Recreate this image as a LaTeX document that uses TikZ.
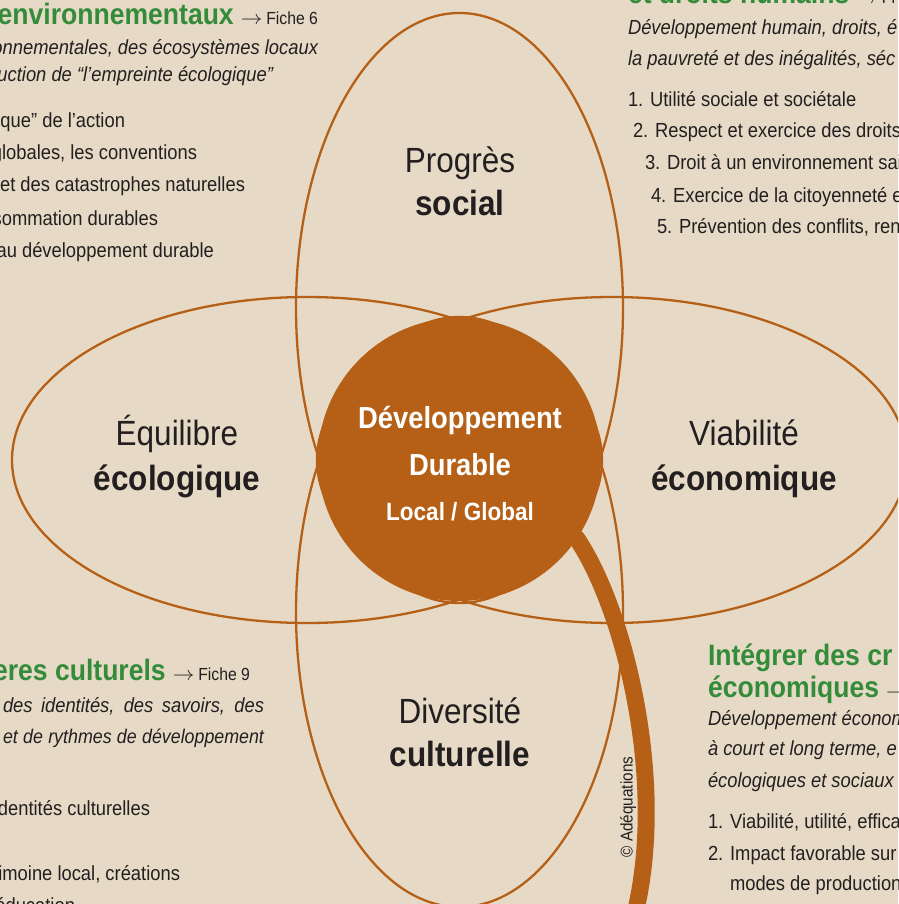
\documentclass[tikz,border=0pt]{standalone}
\usepackage{fontspec}
\setmainfont{Liberation Sans}[FakeStretch=0.9]
\definecolor{bgc}{RGB}{230,218,198}
\definecolor{brn}{RGB}{181,96,22}
\definecolor{dgreen}{RGB}{52,140,58}
\definecolor{ink}{RGB}{35,31,32}
\newcommand\bodyfont{\fontsize{20.4}{24}\selectfont}
\newcommand\titfont{\fontsize{29.5}{32}\selectfont\bfseries}
\newcommand\fichefont{\fontsize{17.5}{20}\selectfont}
\newcommand\arrfont{\fontsize{17}{20}\selectfont}
\newcommand\lblfont{\fontsize{35}{42}\selectfont}
\newcommand\corefont{\fontsize{30.4}{34}\selectfont\bfseries}
\newcommand\smcorefont{\fontsize{25}{28}\selectfont\bfseries}
\newcommand\copyfont{\fontsize{17}{20}\selectfont}
\newcommand\fiche[1]{{\fichefont\hspace{7pt}{\arrfont\scalebox{1.25}[1.15]{$\rightarrow$}}\hspace{4pt}#1}}
\begin{document}
\begin{tikzpicture}[x=1pt,y=-1pt,
  petal/.style={draw=brn, line width=2.3pt},
  band/.style={draw=brn, line width=17pt},
  txt/.style={inner sep=0pt, outer sep=0pt, text=ink, font=\bodyfont},
  lt/.style={txt, anchor=base west},
  rt/.style={txt, anchor=base east},
  ttl/.style={inner sep=0pt, outer sep=0pt, text=ink},
  lbl/.style={inner sep=0pt, text=ink, anchor=base, font=\lblfont},
  corelbl/.style={inner sep=0pt, text=white, anchor=base}]
\useasboundingbox (0,0) rectangle (898,904);
\fill[bgc] (0,0) rectangle (898,904);
\clip (0,0) rectangle (898,904);

% petals
\draw[petal] (459.5,308) ellipse [x radius=163.5pt, y radius=295pt];
\draw[petal] (459.5,612) ellipse [x radius=163.5pt, y radius=295pt];
\draw[petal] (307,460) ellipse [x radius=295pt, y radius=163pt];
\draw[petal] (612,460) ellipse [x radius=295pt, y radius=163pt];

% core circle
\node[circle, fill=brn, minimum size=283pt, inner sep=0pt] (core) at (459.5,459.5) {};
\coordinate (bandend) at (632,925);
\draw[band] (core.center) -- (core.-34) .. controls (625,610) and (670,790) .. (bandend);

\node[corelbl, font=\corefont] (c1) at (460,428) {Développement};
\node[corelbl, font=\corefont] (c2) at (460,475) {Durable};
\node[corelbl, font=\smcorefont] (c3) at (460,520) {Local / Global};

% petal labels
\node[lbl] (p1) at (460,172) {Progrès};
\node[lbl, font=\lblfont\bfseries] (p2) at (460,215) {social};
\node[lbl] (e1) at (177,445) {Équilibre};
\node[lbl, font=\lblfont\bfseries] (e2) at (177,490) {écologique};
\node[lbl] (v1) at (744,445) {Viabilité};
\node[lbl, font=\lblfont\bfseries] (v2) at (744,490) {économique};
\node[lbl] (d1) at (460,723) {Diversité};
\node[lbl, font=\lblfont\bfseries] (d2) at (460,766) {culturelle};

% copyright
\node[txt, font=\copyfont, rotate=90, anchor=center] (copy) at (628,807) {© Adéquations};

% top-left block
\node[ttl, anchor=base east] (tlt) at (318,25) {\textcolor{dgreen}{\titfont environnementaux}\fiche{Fiche 6}};
\node[rt, font=\bodyfont\itshape] (tli1) at (318,55) {onnementales, des écosystèmes locaux};
\node[rt, font=\bodyfont\itshape] (tli2) at (273,82) {uction de “l’empreinte écologique”};
\node[rt] (tll1) at (125,128) {que” de l’action};
\node[rt] (tll2) at (197,160) {globales, les conventions};
\node[rt] (tll3) at (245,192) {et des catastrophes naturelles};
\node[rt] (tll4) at (158,225) {sommation durables};
\node[rt] (tll5) at (214,257) {au développement durable};

% top-right block
\node[ttl, anchor=base west] (trt) at (628,4) {\textcolor{dgreen}{\titfont et droits humains}\fiche{Fi}};
\node[lt, font=\bodyfont\itshape] (tri1) at (628,35) {Développement humain, droits, é};
\node[lt, font=\bodyfont\itshape] (tri2) at (628,66) {la pauvreté et des inégalités, séc};
\node[lt] (trl1) at (628,107) {1. Utilité sociale et sociétale};
\node[lt] (trl2) at (633,138) {2. Respect et exercice des droits};
\node[lt] (trl3) at (645,170) {3. Droit à un environnement sai};
\node[lt] (trl4) at (651,202) {4. Exercice de la citoyenneté e};
\node[lt] (trl5) at (657,233) {5. Prévention des conflits, ren};

% bottom-left block
\node[ttl, anchor=base east] (blt) at (250,680) {\textcolor{dgreen}{\titfont eres culturels}\fiche{Fiche 9}};
\node[lt, font=\bodyfont\itshape] (bli1) at (3,712) {\makebox[261pt][s]{des identités, des savoirs, des}};
\node[lt, font=\fontsize{19.8}{24}\selectfont\itshape] (bli2) at (3,743) {\makebox[261pt][s]{et de rythmes de développement}};
\node[rt] (bll1) at (150,815) {dentités culturelles};
\node[rt] (bll2) at (180,880) {imoine local, créations};
\node[rt] (bll3) at (75,912) {éducation};

% bottom-right block
\node[ttl, anchor=base west] (brt1) at (708,665) {\textcolor{dgreen}{\titfont Intégrer des cr}};
\node[ttl, anchor=base west] (brt2) at (708,697) {\textcolor{dgreen}{\titfont économiques}\fiche{}};
\node[lt, font=\bodyfont\itshape] (bri1) at (708,725) {Développement économ};
\node[lt, font=\bodyfont\itshape] (bri2) at (708,755) {à court et long terme, e};
\node[lt, font=\bodyfont\itshape] (bri3) at (708,787) {écologiques et sociaux};
\node[lt] (brl1) at (708,828) {1. Viabilité, utilité, effica};
\node[lt] (brl2) at (708,860) {2. Impact favorable sur};
\node[lt] (brl3) at (730,890) {modes de production};
\end{tikzpicture}
\end{document}
